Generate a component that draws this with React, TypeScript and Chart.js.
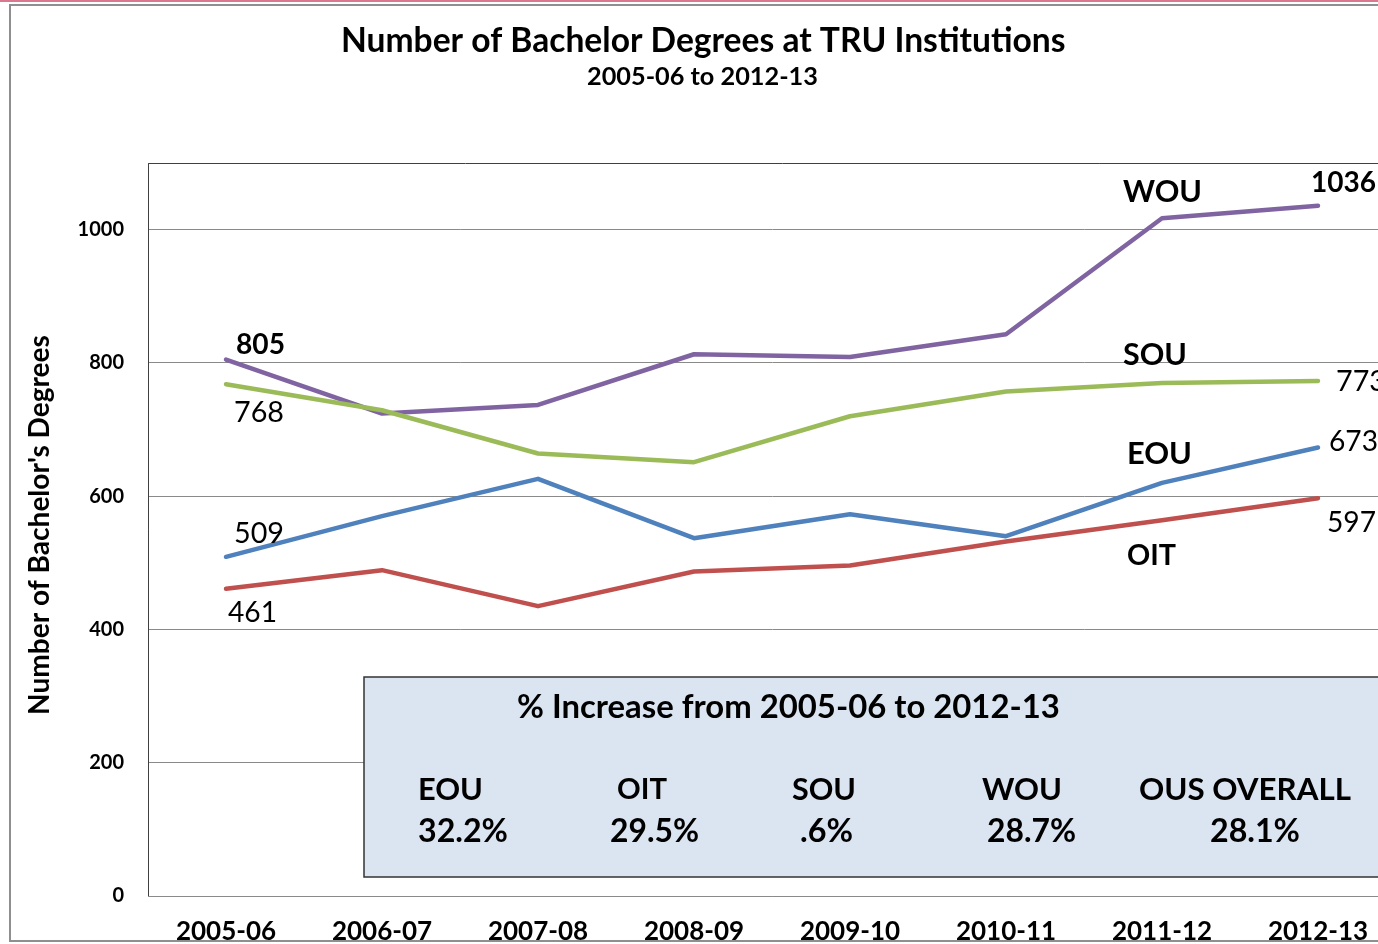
import React, { useEffect, useRef } from "react";
import { Chart, registerables } from "chart.js";

Chart.register(...registerables);

const years = ["2005-06", "2006-07", "2007-08", "2008-09", "2009-10", "2010-11", "2011-12", "2012-13"];
const wouValues = [805, 724, 737, 813, 809, 843, 1017, 1036];
const souValues = [768, 729, 664, 651, 720, 757, 770, 773];
const eouValues = [509, 570, 626, 537, 573, 540, 620, 673];
const oitValues = [461, 489, 435, 487, 496, 532, 564, 597];
const yTickValues = [0, 200, 400, 600, 800, 1000];
const increaseNames = ["EOU", "OIT", "SOU", "WOU", "OUS OVERALL"];
const increaseValues = ["32.2%", "29.5%", ".6%", "28.7%", "28.1%"];

const titleText = "Number of Bachelor Degrees at TRU Institutions";
const subtitleText = "2005-06 to 2012-13";
const yTitleText = "Number of Bachelor's Degrees";
const boxTitleText = "% Increase from 2005-06 to 2012-13";

const W = 1420;
const H = 944;
const FONT = "Lato, 'Open Sans', sans-serif";

function fitFont(ctx: CanvasRenderingContext2D, text: string, width: number, weight: string) {
  ctx.font = `${weight} 100px ${FONT}`;
  const m = ctx.measureText(text).width;
  const size = (100 * width) / m;
  return `${weight} ${size.toFixed(2)}px ${FONT}`;
}

function drawText(
  ctx: CanvasRenderingContext2D,
  text: string,
  left: number,
  cy: number,
  width: number,
  weight: string
) {
  ctx.save();
  ctx.font = fitFont(ctx, text, width, weight);
  ctx.fillStyle = "#000";
  ctx.textAlign = "left";
  ctx.textBaseline = "middle";
  ctx.fillText(text, left, cy);
  ctx.restore();
}

const decorPlugin = {
  id: "decor",
  beforeDraw(chart: any) {
    const ctx = chart.ctx as CanvasRenderingContext2D;
    ctx.save();
    ctx.fillStyle = "#fff";
    ctx.fillRect(0, 0, W, H);
    ctx.fillStyle = "#d9788f";
    ctx.fillRect(0, 0, W, 2);
    ctx.strokeStyle = "#8f8f8f";
    ctx.lineWidth = 2;
    ctx.strokeRect(10, 5, W + 20, 936);
    ctx.restore();
  },
  afterDatasetsDraw(chart: any) {
    const ctx = chart.ctx as CanvasRenderingContext2D;
    const area = chart.chartArea;
    ctx.save();
    ctx.strokeStyle = "#404040";
    ctx.lineWidth = 1;
    ctx.beginPath();
    ctx.moveTo(area.left + 0.5, area.bottom);
    ctx.lineTo(area.left + 0.5, area.top + 0.5);
    ctx.lineTo(area.right + 20, area.top + 0.5);
    ctx.stroke();
    ctx.restore();

    // titles
    drawText(ctx, titleText, 341, 41, 725, "bold");
    drawText(ctx, subtitleText, 587, 77, 231, "bold");

    // y title
    ctx.save();
    ctx.translate(40, 525);
    ctx.rotate(-Math.PI / 2);
    ctx.font = fitFont(ctx, yTitleText, 380, "bold");
    ctx.fillStyle = "#000";
    ctx.textAlign = "center";
    ctx.textBaseline = "middle";
    ctx.fillText(yTitleText, 0, 0);
    ctx.restore();

    // data labels anchored to points
    const xs = chart.scales.x;
    const ys = chart.scales.y;
    const last = years.length - 1;
    const px = (i: number) => xs.getPixelForValue(i);
    const py = (v: number) => ys.getPixelForValue(v);
    drawText(ctx, String(wouValues[0]), px(0) + 10, py(wouValues[0]) - 15, 49, "bold");
    drawText(ctx, String(souValues[0]), px(0) + 8, py(souValues[0]) + 28, 50, "normal");
    drawText(ctx, String(eouValues[0]), px(0) + 8, py(eouValues[0]) - 23, 50, "normal");
    drawText(ctx, String(oitValues[0]), px(0) + 2, py(oitValues[0]) + 24, 49, "normal");
    drawText(ctx, String(wouValues[last]), px(last) - 7, py(wouValues[last]) - 23, 65, "bold");
    drawText(ctx, String(souValues[last]), px(last) + 18, py(souValues[last]) + 1, 50, "normal");
    drawText(ctx, String(eouValues[last]), px(last) + 11, py(eouValues[last]) - 6, 49, "normal");
    drawText(ctx, String(oitValues[last]), px(last) + 9, py(oitValues[last]) + 25, 49, "normal");

    // series names
    drawText(ctx, "WOU", px(6) - 39, py(wouValues[6]) - 26, 79, "bold");
    drawText(ctx, "SOU", px(6) - 39, py(souValues[6]) - 28, 64, "bold");
    drawText(ctx, "EOU", px(6) - 35, py(eouValues[6]) - 29, 65, "bold");
    drawText(ctx, "OIT", px(6) - 35, py(oitValues[6]) + 36, 49, "bold");

    // box
    ctx.save();
    ctx.fillStyle = "#dbe5f1";
    ctx.fillRect(364, 677, W, 200);
    ctx.strokeStyle = "#333";
    ctx.lineWidth = 1.5;
    ctx.strokeRect(364, 677, W, 200);
    ctx.restore();
    drawText(ctx, boxTitleText, 517, 707, 543, "bold");
    const nameLeft = [418, 617, 792, 982, 1139];
    const nameW = [65, 50, 64, 80, 212];
    const valLeft = [418, 610, 800, 987, 1210];
    const valW = [90, 89, 53, 89, 90];
    increaseNames.forEach((n, i) => drawText(ctx, n, nameLeft[i], 790, nameW[i], "bold"));
    increaseValues.forEach((v, i) => drawText(ctx, v, valLeft[i], 832, valW[i], "bold"));
  },
};

export default function App() {
  const ref = useRef<HTMLCanvasElement | null>(null);
  useEffect(() => {
    if (!ref.current) return;
    const mk = (label: string, data: number[], color: string) => ({
      label,
      data,
      borderColor: color,
      backgroundColor: color,
      borderWidth: 4.5,
      pointRadius: 0,
      borderCapStyle: "round" as const,
      borderJoinStyle: "round" as const,
      tension: 0,
    });
    const chart = new Chart(ref.current, {
      type: "line",
      data: {
        labels: years,
        datasets: [
          mk("OIT", oitValues, "#c0504d"),
          mk("EOU", eouValues, "#4f81bd"),
          mk("SOU", souValues, "#9bbb59"),
          mk("WOU", wouValues, "#8064a2"),
        ],
      },
      options: {
        animation: false,
        responsive: false,
        devicePixelRatio: 1,
        layout: { padding: { top: 163, right: W - 1396, left: 0, bottom: 0 } },
        plugins: { legend: { display: false }, title: { display: false }, tooltip: { enabled: false } },
        scales: {
          x: {
            type: "category",
            offset: true,
            grid: { display: false, drawTicks: false },
            border: { display: true, color: "#8a8a8a", width: 1 },
            ticks: { color: "#000", font: { family: FONT, size: 26, weight: "bold" }, padding: 20, maxRotation: 0, autoSkip: false },
            afterFit: (s: any) => { s.height = H - 896; },
          },
          y: {
            min: 0,
            max: 1100,
            ticks: {
              stepSize: 200,
              color: "#000",
              font: { family: FONT, size: 20, weight: "bold" },
              padding: 24,
              callback: (v: any) => String(v),
            },
            grid: { color: "#8a8a8a", drawTicks: false, lineWidth: 1 },
            border: { display: true, color: "#8a8a8a" },
            afterBuildTicks: (s: any) => { s.ticks = yTickValues.map((v) => ({ value: v })); },
            afterFit: (s: any) => { s.width = 148; },
          },
        },
      },
      plugins: [decorPlugin],
    });
    return () => chart.destroy();
  }, []);
  return (
    <div style={{ position: "fixed", left: 0, top: 0, width: 1378, height: 944, overflow: "hidden", background: "#fff" }}>
      <canvas ref={ref} width={W} height={H} style={{ display: "block", width: W, height: H }} />
    </div>
  );
}
